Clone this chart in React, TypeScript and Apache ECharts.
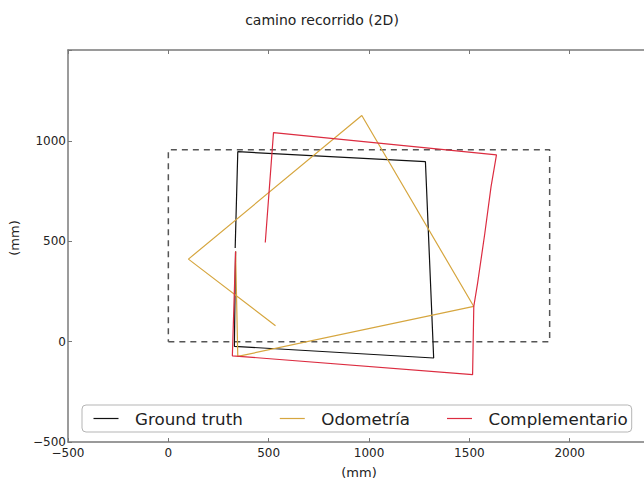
import React, { useEffect, useRef } from "react";
import * as echarts from "echarts";

const titleText = "camino recorrido (2D)";
const axisName = "(mm)";
const seriesNames = ["Ground truth", "Odometría", "Complementario"];

const groundTruth: [number, number][] = [
  [333, 468], [346, 948], [1281, 898], [1322, -81], [329, -23], [335, 450],
];
const odometria: [number, number][] = [
  [534, 80], [100, 412], [964, 1128], [1522, 176], [346, -73], [335, 450],
];
const complementario: [number, number][] = [
  [483, 495], [524, 1043], [1635, 932], [1608, 774], [1577, 541], [1541, 292],
  [1522, 176], [1516, -164], [319, -70], [335, 450],
];
const referenceRect: [number, number][] = [
  [0, 0], [1900, 0], [1900, 957], [0, 957], [0, 0],
];

const xMin = -500, xMax = 2400, yMin = -500, yMax = 1455, tickStep = 500;

const fmt = (v: number) =>
  v % tickStep === 0 ? (v < 0 ? "\u2212" + Math.abs(v) : String(v)) : "";

export default function App() {
  const ref = useRef<HTMLDivElement>(null);
  useEffect(() => {
    document.body.style.margin = "0";
    const chart = echarts.init(ref.current!, undefined, { renderer: "svg" });
    const font = "DejaVu Sans";
    const axisLine = { show: true, onZero: false, lineStyle: { color: "#7a7a7a", width: 1.5 } };
    const tick = { inside: true, length: 4, lineStyle: { color: "#777" } };
    chart.setOption({
      animation: false,
      textStyle: { fontFamily: font },
      title: {
        text: titleText, left: "center", top: 8,
        textStyle: { fontSize: 14, fontWeight: "normal", color: "#222", fontFamily: font },
      },
      grid: {
        left: 68, top: 50, width: 582, height: 392,
        containLabel: false, outerBoundsMode: "none",
      },
      legend: {
        left: 82, top: 405,
        data: seriesNames,
        icon: "rect",
        itemWidth: 25, itemHeight: 1.2, itemGap: 37,
        padding: [5, 4, 5, 11.5],
        borderColor: "#b5b5b5", borderWidth: 1, borderRadius: 4,
        backgroundColor: "#fff",
        textStyle: { fontSize: 16.7, color: "#222", fontFamily: font, padding: [0, 0, 0, 11.5] },
      },
      xAxis: [
        {
          type: "value", min: xMin, max: xMax, interval: tickStep,
          axisLine, splitLine: { show: false }, axisTick: tick,
          axisLabel: { formatter: fmt, fontSize: 12, color: "#222", margin: 5, fontFamily: font },
          name: axisName, nameLocation: "middle", nameGap: 24,
          nameTextStyle: { fontSize: 13, color: "#222", fontFamily: font },
        },
        {
          type: "value", position: "top", min: xMin, max: xMax, interval: tickStep,
          axisLine, splitLine: { show: false }, axisTick: tick,
          axisLabel: { show: false },
        },
      ],
      yAxis: {
        type: "value", min: yMin, max: yMax, interval: tickStep,
        axisLine, splitLine: { show: false }, axisTick: tick,
        axisLabel: { formatter: fmt, fontSize: 12, color: "#222", margin: 2, fontFamily: font },
        name: axisName, nameLocation: "middle", nameGap: 47,
        nameTextStyle: { fontSize: 13, color: "#222", fontFamily: font, padding: [0, 0, 0, 16] },
      },
      series: [
        {
          name: seriesNames[0], type: "line", data: groundTruth, symbol: "none",
          lineStyle: { color: "#111", width: 1.2 }, itemStyle: { color: "#111" },
        },
        {
          name: seriesNames[1], type: "line", data: odometria, symbol: "none",
          lineStyle: { color: "#d6a63f", width: 1.2 }, itemStyle: { color: "#d6a63f" },
        },
        {
          name: seriesNames[2], type: "line", data: complementario, symbol: "none",
          lineStyle: { color: "#dc2c40", width: 1.2 }, itemStyle: { color: "#dc2c40" },
        },
        {
          name: "ref", type: "line", data: referenceRect, symbol: "none", z: 1,
          lineStyle: { color: "#555", width: 1.5, type: [6, 5] },
        },
      ],
    });
    return () => chart.dispose();
  }, []);
  return <div ref={ref} style={{ width: 644, height: 483 }} />;
}
